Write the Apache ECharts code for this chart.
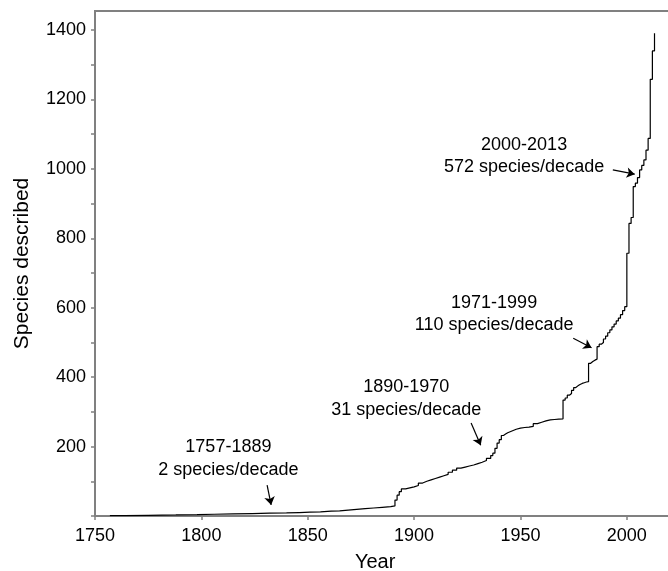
<!DOCTYPE html>
<html>
<head>
<meta charset="utf-8">
<script src="https://cdn.jsdelivr.net/npm/echarts@6/dist/echarts.min.js"></script>
<style>
html,body{margin:0;padding:0;background:#fff;}
#chart{width:668px;height:571px;}
</style>
</head>
<body>
<div id="chart"></div>
<script>
// Cumulative number of species described, by year (step curve)
const years = [1757,1764,1775,1788,1798,1806,1815,1824,1832,1840,1846,1851,1856,1861,1865,1869,1873,1877,1881,1885,1889,
  1891,1892,1893,1894,1896,1898,1900,1902,1904,1906,1908,1910,1912,1914,1916,1918,1920,1922,1924,1926,1928,1930,1932,1934,1936,1937,1938,1939,1940,1941,1942,1943,1944,1946,1948,1950,1952,1954,1956,1958,1960,1962,1964,1966,1968,
  1970,1971,1972,1973,1974,1975,1976,1977,1978,1979,1980,1981,1982,1983,1984,1985,1986,1987,1988,1989,1990,1991,1992,1993,1994,1995,1996,1997,1998,1999,
  2000,2001,2002,2003,2004,2005,2006,2007,2008,2009,2010,2011,2012,2013];
const speciesCum = [1,2,3,4,5,6,7,8,9,10,11,12,14,15,17,19,21,23,25,27,29,
  46,60,70,78,81,84,88,95,100,104,108,112,116,120,126,132,138,141,144,147,151,155,160,166,174,181,195,210,220,232,236,240,245,250,253,255,256,258,266,270,274,277,278,279,280,
  334,340,348,353,362,370,375,379,382,384,386,387,440,445,449,452,488,495,500,510,518,528,536,545,553,562,570,580,592,603,
  757,843,860,949,959,975,997,1010,1026,1054,1088,1258,1340,1391];

// Axis ticks and labels
const xTicks = [1750,1800,1850,1900,1950,2000];
const yTicks = [0,100,200,300,400,500,600,700,800,900,1000,1100,1200,1300,1400];
const yLabels = [200,400,600,800,1000,1200,1400];

// Period annotations: label text, anchor [year, species], arrow from/to [year, species]
const periodTexts = ['1757-1889\n2 species/decade','1890-1970\n31 species/decade','1971-1999\n110 species/decade','2000-2013\n572 species/decade'];
const periodTextAt = [[1812.7,166],[1896.3,339],[1937.6,582],[1951.7,1037]];
const arrowFrom = [[1830.9,89],[1926.8,268],[1974.8,512],[1993.4,997]];
const arrowTo = [[1832.8,32],[1931.3,204],[1983.4,485],[2003.7,985]];

const FONT = '"Liberation Sans", Arial, sans-serif';
const AX = '#808080';

const chart = echarts.init(document.getElementById('chart'), null, {renderer:'canvas'});
chart.setOption({
  animation: false,
  backgroundColor: '#fff',
  grid: {left: 95, top: 11, right: -1.4, bottom: 55, containLabel: false, outerBoundsMode: 'none',
         show: true, borderColor: AX, borderWidth: 2, backgroundColor: 'transparent'},
  xAxis: {
    type: 'value', min: 1750, max: 2020,
    name: 'Year', nameLocation: 'middle', nameGap: 36,
    nameTextStyle: {fontSize: 20, color: '#000', fontFamily: FONT, padding: [0, 14, 0, 0]},
    axisLine: {show: true, lineStyle: {color: AX, width: 2}},
    axisTick: {show: true, customValues: xTicks, length: 4, lineStyle: {color: AX, width: 1.5}},
    axisLabel: {customValues: xTicks, formatter: v => String(v), fontSize: 18, color: '#000', fontFamily: FONT, margin: 11},
    splitLine: {show: false}
  },
  yAxis: {
    type: 'value', min: 0, max: 1455,
    name: 'Species described', nameLocation: 'middle', nameGap: 62,
    nameTextStyle: {fontSize: 21, color: '#000', fontFamily: FONT},
    axisLine: {show: true, lineStyle: {color: AX, width: 2}},
    axisTick: {show: true, customValues: yTicks, length: 4, lineStyle: {color: AX, width: 1.5}},
    axisLabel: {customValues: yLabels, formatter: v => String(v), fontSize: 18, color: '#000', fontFamily: FONT, margin: 9},
    splitLine: {show: false}
  },
  series: [{
    type: 'line',
    step: 'end',
    data: years.map((y, i) => [y, speciesCum[i]]),
    showSymbol: false,
    symbol: 'none',
    lineStyle: {color: '#000', width: 1.2},
    silent: true,
    markPoint: {
      symbol: 'circle', symbolSize: 0, silent: true,
      label: {show: true, position: 'inside', fontSize: 18, lineHeight: 22.5, color: '#000', fontFamily: FONT, align: 'center', verticalAlign: 'middle'},
      data: periodTexts.map((t, i) => ({coord: periodTextAt[i], value: t, label: {formatter: t}}))
    },
    markLine: {
      silent: true,
      symbol: ['none', 'arrow'],
      symbolSize: [8, 8],
      label: {show: false},
      lineStyle: {color: '#000', width: 1.2, type: 'solid'},
      emphasis: {disabled: true},
      data: arrowFrom.map((f, i) => [{coord: f}, {coord: arrowTo[i]}])
    }
  }]
});
</script>
</body>
</html>
